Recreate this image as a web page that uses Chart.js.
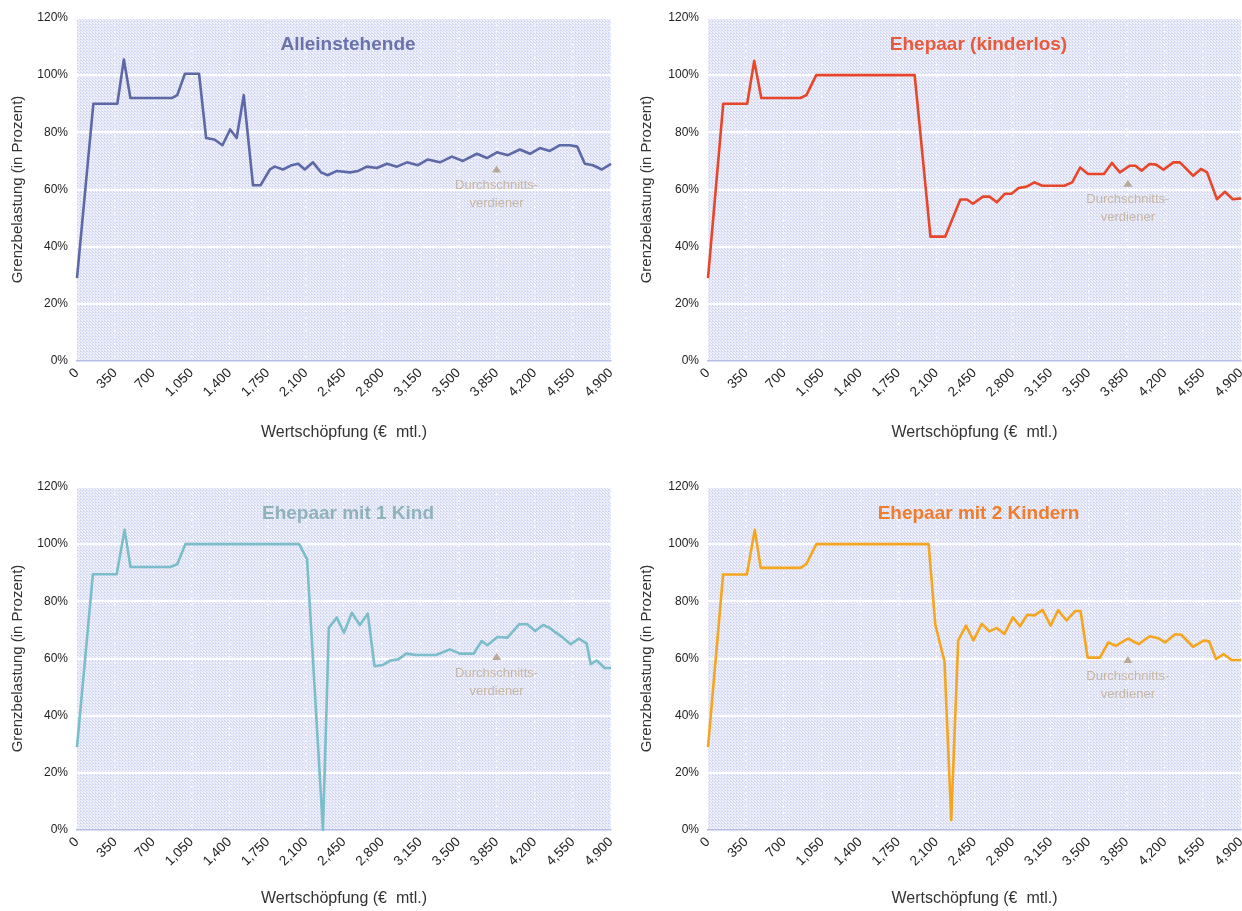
<!DOCTYPE html>
<html>
<head>
<meta charset="utf-8">
<script src="https://cdn.jsdelivr.net/npm/chart.js@4.4.0/dist/chart.umd.min.js"></script>
<style>
  body { margin: 0; background: #fff; width: 1242px; height: 911px; overflow: hidden; position: relative; }
  .panel { position: absolute; }
</style>
</head>
<body>
<div class="panel" style="left:0;top:0;width:620px;height:450px"><canvas id="c1"></canvas></div>
<div class="panel" style="left:620px;top:0;width:622px;height:450px"><canvas id="c2"></canvas></div>
<div class="panel" style="left:0;top:460px;width:620px;height:451px"><canvas id="c3"></canvas></div>
<div class="panel" style="left:620px;top:460px;width:622px;height:451px"><canvas id="c4"></canvas></div>
<script>
/* ===== Data (Wertschöpfung in € mtl. / Grenzbelastung in %) ===== */

const alleinEuro = [0, 150, 370, 430, 490, 870, 920, 990, 1120, 1185, 1260, 1335, 1405, 1465, 1530, 1615, 1685,
  1770, 1815, 1890, 1970, 2030, 2090, 2165, 2240, 2300, 2385, 2505, 2580, 2660, 2752, 2844, 2936, 3028, 3128,
  3220, 3330, 3440, 3541, 3670, 3761, 3853, 3954, 4064, 4156, 4248, 4339, 4431, 4523, 4590, 4660, 4734, 4816, 4900];
const alleinRate = [29, 90, 90, 105.5, 92, 92, 93, 100.5, 100.5, 78, 77.5, 75.5, 81, 78, 93, 61.5, 61.5,
  67, 68, 67, 68.5, 69, 67, 69.5, 66, 65, 66.5, 66, 66.5, 68, 67.5, 69, 68, 69.5, 68.5,
  70.5, 69.5, 71.5, 70, 72.5, 71, 73, 72, 74, 72.5, 74.5, 73.5, 75.5, 75.5, 75, 69, 68.5, 67, 69];

const kinderlosEuro = [0, 140, 360, 425, 490, 850, 905, 995, 1900, 2045, 2180, 2255, 2320, 2380, 2436, 2527,
  2590, 2655, 2728, 2790, 2856, 2930, 3001, 3074, 3275, 3348, 3421, 3494, 3640, 3713, 3786, 3877, 3930, 3986,
  4059, 4120, 4187, 4278, 4338, 4460, 4533, 4588, 4679, 4752, 4825, 4900];
const kinderlosRate = [29, 90, 90, 105, 92, 92, 93, 100, 100, 43.5, 43.5, 50.5, 56.5, 56.5, 55, 57.5,
  57.5, 55.5, 58.5, 58.5, 60.5, 61, 62.5, 61.3, 61.3, 62.5, 67.7, 65.4, 65.4, 69.3, 66, 68.3, 68.3, 66.6,
  68.9, 68.7, 66.9, 69.5, 69.5, 64.8, 67.2, 66, 56.6, 59.2, 56.6, 56.9];

const einKindEuro = [0, 146, 364, 437, 491, 855, 920, 994, 2038, 2111, 2257, 2311, 2384, 2450, 2522, 2595,
  2668, 2730, 2803, 2876, 2948, 3021, 3112, 3294, 3422, 3513, 3640, 3713, 3767, 3858, 3949, 4059, 4131, 4204,
  4277, 4332, 4459, 4532, 4605, 4677, 4714, 4768, 4841, 4900];
const einKindRate = [29, 89.5, 89.5, 105, 92, 92, 93, 100, 100, 94.8, 0, 70.8, 74.3, 69, 76, 71.7,
  75.7, 57.3, 57.7, 59.3, 59.7, 61.7, 61.2, 61.2, 63.2, 61.7, 61.7, 66.1, 64.7, 67.5, 67.3, 72, 72, 69.6,
  71.7, 70.8, 67.3, 65, 67, 65.2, 58, 59.3, 56.7, 56.7];

const zweiKinderEuro = [0, 139, 357, 430, 485, 850, 904, 996, 2028, 2090, 2174, 2236, 2300, 2372, 2440, 2517,
  2587, 2655, 2725, 2803, 2868, 2935, 3001, 3076, 3150, 3218, 3296, 3375, 3425, 3490, 3603, 3680, 3750, 3860,
  3958, 4060, 4132, 4203, 4294, 4351, 4459, 4560, 4606, 4670, 4743, 4812, 4900];
const zweiKinderRate = [29, 89.4, 89.4, 105, 91.7, 91.7, 93, 100, 100, 71.8, 59, 3.5, 66.3, 71.5, 66.3, 72.1,
  69.5, 70.7, 68.6, 74.4, 71.3, 75.3, 75.1, 77, 71.5, 76.9, 73.3, 76.6, 76.6, 60.3, 60.3, 65.6, 64.4, 67,
  65, 67.8, 67.2, 65.6, 68.5, 68.3, 64.1, 66.3, 66, 59.9, 61.5, 59.5, 59.5];

const panelTitles = ['Alleinstehende', 'Ehepaar (kinderlos)', 'Ehepaar mit 1 Kind', 'Ehepaar mit 2 Kindern'];
const xTickStep = 350;      // 0, 350, ... 4,900
const xMax = 4900;
const yTickStep = 20;       // 0% ... 120%
const yMax = 120;
// "Durchschnittsverdiener" marker, per panel
const markerEuro = [3850, 3860, 3850, 3860];
const markerRate = [67, 62, 60.5, 59.5];
const markerLines = ['Durchschnitts-', 'verdiener'];

/* ===== Styling / layout ===== */
const FONT = '"Liberation Sans", Arial, sans-serif';
const panels = [
  { id: 'c1', euro: alleinEuro, rate: alleinRate, line: '#5d69a7', title: '#6972ab', yW: 77, yPad: 9, top: 18, right: 9, xH: 84, bottom: 5 },
  { id: 'c2', euro: kinderlosEuro, rate: kinderlosRate, line: '#e8462b', title: '#e9593b', yW: 88, yPad: 18, top: 18, right: 1, xH: 84, bottom: 5 },
  { id: 'c3', euro: einKindEuro, rate: einKindRate, line: '#7bbdcb', title: '#8fb2bb', yW: 77, yPad: 9, top: 27, right: 9, xH: 81, bottom: 0 },
  { id: 'c4', euro: zweiKinderEuro, rate: zweiKinderRate, line: '#f6a51e', title: '#f07c2c', yW: 88, yPad: 18, top: 27, right: 1, xH: 81, bottom: 0 },
];

let bgPattern = null;
function getPattern(ctx) {
  if (bgPattern) return bgPattern;
  const t = document.createElement('canvas');
  t.width = 3; t.height = 3;
  const g = t.getContext('2d');
  g.fillStyle = '#f0f1fa'; g.fillRect(0, 0, 3, 3);
  g.fillStyle = '#d2d8f1';
  g.fillRect(0, 0, 1, 1); g.fillRect(1, 1, 1, 1); g.fillRect(2, 2, 1, 1);
  g.fillRect(2, 0, 1, 1);
  bgPattern = ctx.createPattern(t, 'repeat');
  return bgPattern;
}

const plotBackground = {
  id: 'plotBackground',
  beforeDraw(chart) {
    const { ctx, chartArea: a } = chart;
    ctx.save();
    ctx.fillStyle = getPattern(ctx);
    ctx.fillRect(a.left, a.top, a.right - a.left, a.bottom - a.top);
    ctx.restore();
  }
};

const panelText = {
  id: 'panelText',
  afterDatasetsDraw(chart, args, opts) {
    const { ctx, chartArea: a, scales } = chart;
    ctx.save();
    // panel title
    ctx.font = 'bold 19px ' + FONT;
    ctx.fillStyle = opts.color;
    ctx.textAlign = 'center';
    ctx.textBaseline = 'middle';
    ctx.fillText(opts.title, (a.left + a.right) / 2 + 4, a.top + 27);
    // average earner marker
    const mx = scales.x.getPixelForValue(opts.mx);
    const my = scales.y.getPixelForValue(opts.my);
    ctx.fillStyle = '#b9a998';
    ctx.beginPath();
    ctx.moveTo(mx, my - 4); ctx.lineTo(mx + 4.5, my + 3); ctx.lineTo(mx - 4.5, my + 3);
    ctx.closePath(); ctx.fill();
    ctx.fillStyle = '#c8b6a4';
    ctx.font = '13px ' + FONT;
    markerLines.forEach((l, i) => ctx.fillText(l, mx, my + 16 + i * 18));
    ctx.restore();
  }
};

panels.forEach((p, i) => {
  new Chart(document.getElementById(p.id), {
    type: 'line',
    data: {
      datasets: [{
        data: p.euro.map((e, k) => ({ x: e, y: p.rate[k] })),
        borderColor: p.line,
        borderWidth: 2.6,
        pointRadius: 0,
        tension: 0,
        borderJoinStyle: 'round',
        clip: false
      }]
    },
    options: {
      responsive: true,
      maintainAspectRatio: false,
      animation: false,
      events: [],
      layout: { padding: { left: 0, top: p.top, right: p.right, bottom: p.bottom } },
      plugins: {
        legend: { display: false },
        tooltip: { enabled: false },
        panelText: { title: panelTitles[i], color: p.title, mx: markerEuro[i], my: markerRate[i] }
      },
      scales: {
        x: {
          type: 'linear',
          min: 0, max: xMax,
          afterFit: s => { s.height = p.xH; s.paddingLeft = 0; s.paddingRight = 0; },
          ticks: {
            stepSize: xTickStep, autoSkip: false, minRotation: 45, maxRotation: 45, padding: 4,
            color: '#222', font: { family: FONT, size: 13.5 },
            callback: v => v.toLocaleString('en-US')
          },
          grid: { color: 'rgba(255,255,255,0.9)', lineWidth: 1.5, drawTicks: false },
          border: { display: true, color: '#b4bde3', width: 1.5, dash: [1.5, 5] },
          title: { display: true, text: 'Wertschöpfung (€  mtl.)', color: '#333', font: { family: FONT, size: 16 }, padding: { top: 4, bottom: 3 } }
        },
        y: {
          min: 0, max: yMax,
          afterFit: s => { s.width = p.yW; },
          ticks: { stepSize: yTickStep, padding: 9, color: '#222', font: { family: FONT, size: 12 }, callback: v => v + '%' },
          grid: { color: '#ffffff', lineWidth: 2, drawTicks: false },
          border: { display: false },
          title: { display: true, text: 'Grenzbelastung (in Prozent)', color: '#333', font: { family: FONT, size: 15 }, padding: { top: p.yPad, bottom: 2 } }
        }
      }
    },
    plugins: [plotBackground, panelText]
  });
});
</script>
</body>
</html>
